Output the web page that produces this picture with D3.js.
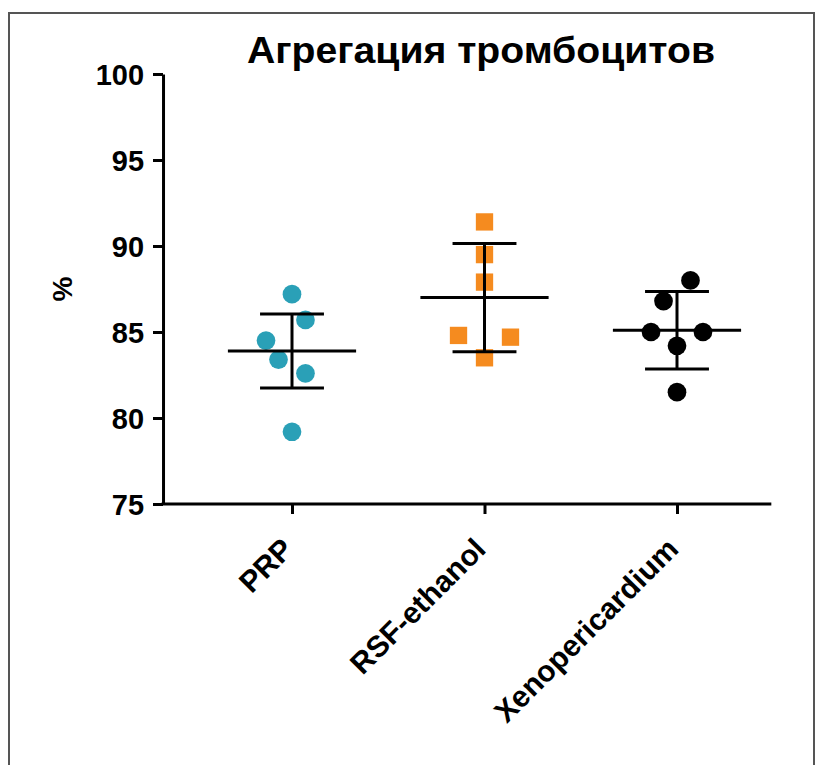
<!DOCTYPE html>
<html>
<head>
<meta charset="utf-8">
<script src="https://cdn.jsdelivr.net/npm/d3@7"></script>
<style>
  body { margin: 0; background: #fff; }
  svg text { font-family: "Liberation Sans", Arial, sans-serif; font-weight: bold; fill: #000; }
</style>
</head>
<body>
<div id="chart"></div>
<script>
// data
const categories = ["PRP", "RSF-ethanol", "Xenopericardium"];
const prpValues = [87.2, 85.7, 84.5, 83.4, 82.6, 79.2];
const rsfValues = [91.4, 89.5, 87.9, 84.8, 84.7, 83.5];
const xenoValues = [88.0, 86.8, 85.0, 85.0, 84.2, 81.5];
// horizontal spread of the points, in category units
const prpJitter = [0, 0.07, -0.135, -0.07, 0.07, 0];
const rsfJitter = [0, 0, 0, -0.135, 0.135, 0];
const xenoJitter = [0.07, -0.07, -0.135, 0.135, 0, 0];
const means = [83.9, 87.0, 85.1];
const sds = [2.15, 3.15, 2.25];
const yTicks = [75, 80, 85, 90, 95, 100];

(function () {
  const WIDTH = 815;
  const HEIGHT = 765;
  const COLORS = ["#2aa0b7", "#f58b1f", "#000000"];
  const SYMBOLS = ["circle", "square", "circle"];
  const MEAN_HALF = 0.333;  // category units
  const CAP_HALF = 0.166;

  const svg = d3.select("#chart").append("svg")
    .attr("width", WIDTH)
    .attr("height", HEIGHT);

  // outer frame
  svg.append("rect")
    .attr("x", 9).attr("y", 13)
    .attr("width", 805).attr("height", 770)
    .attr("fill", "none")
    .attr("stroke", "#555")
    .attr("stroke-width", 2);

  const x = d3.scaleLinear().domain([0, 2]).range([292, 677]);
  const y = d3.scaleLinear().domain([75, 100]).range([504, 74]);
  const xDomainFull = [-0.67, 2.49];

  svg.append("text")
    .attr("x", 481).attr("y", 63)
    .attr("text-anchor", "middle")
    .attr("textLength", 468)
    .attr("lengthAdjust", "spacingAndGlyphs")
    .style("font-size", "36px")
    .text("Агрегация тромбоцитов");

  // y axis
  const yAxis = svg.append("g")
    .attr("transform", `translate(${x(xDomainFull[0])},0)`)
    .call(d3.axisLeft(y).tickValues(yTicks).tickSize(10).tickSizeOuter(0).tickPadding(9));
  styleAxis(yAxis);
  yAxis.selectAll("text").style("font-size", "29px").attr("dy", "0.36em");

  // x axis
  const xAxis = svg.append("g")
    .attr("transform", `translate(0,${y(75)})`)
    .call(d3.axisBottom(x.copy().domain([0, 2])).tickValues([0, 1, 2]).tickSize(10).tickSizeOuter(0).tickFormat(() => ""));
  xAxis.select(".domain").attr("d", `M${x(xDomainFull[0]) - 1.5},0H${x(xDomainFull[1])}`);
  styleAxis(xAxis);

  svg.append("g").selectAll("text")
    .data(categories)
    .join("text")
    .attr("transform", (d, i) => `translate(${x(i) + 3},551) rotate(-45)`)
    .attr("text-anchor", "end")
    .style("font-size", "30px")
    .text((d) => d);

  svg.append("text")
    .attr("transform", "translate(72,289) rotate(-90)")
    .attr("text-anchor", "middle")
    .style("font-size", "28px")
    .text("%");

  const groups = [
    { values: prpValues, jitter: prpJitter },
    { values: rsfValues, jitter: rsfJitter },
    { values: xenoValues, jitter: xenoJitter }
  ];

  // points go first, mean/sd lines sit on top
  groups.forEach((g, i) => {
    svg.append("g").selectAll("path")
      .data(g.values.map((v, k) => ({ v: v, j: g.jitter[k] })))
      .join("path")
      .attr("transform", (d) => `translate(${x(i + d.j)},${y(d.v)})`)
      .attr("fill", COLORS[i])
      .attr("d", d3.symbol(SYMBOLS[i] === "square" ? d3.symbolSquare : d3.symbolCircle,
        SYMBOLS[i] === "square" ? 300 : 275));
  });

  const err = svg.append("g")
    .attr("stroke", "#000")
    .attr("stroke-width", 3)
    .attr("fill", "none");
  means.forEach((m, i) => {
    const top = y(m + sds[i]);
    const bottom = y(m - sds[i]);
    err.append("line")
      .attr("x1", x(i - MEAN_HALF)).attr("x2", x(i + MEAN_HALF))
      .attr("y1", y(m)).attr("y2", y(m));
    err.append("line")
      .attr("x1", x(i)).attr("x2", x(i))
      .attr("y1", top).attr("y2", bottom);
    err.append("line")
      .attr("x1", x(i - CAP_HALF)).attr("x2", x(i + CAP_HALF))
      .attr("y1", top).attr("y2", top);
    err.append("line")
      .attr("x1", x(i - CAP_HALF)).attr("x2", x(i + CAP_HALF))
      .attr("y1", bottom).attr("y2", bottom);
  });

  function styleAxis(g) {
    g.selectAll(".domain, .tick line")
      .attr("stroke", "#000")
      .attr("stroke-width", 3);
  }
})();
</script>
</body>
</html>
